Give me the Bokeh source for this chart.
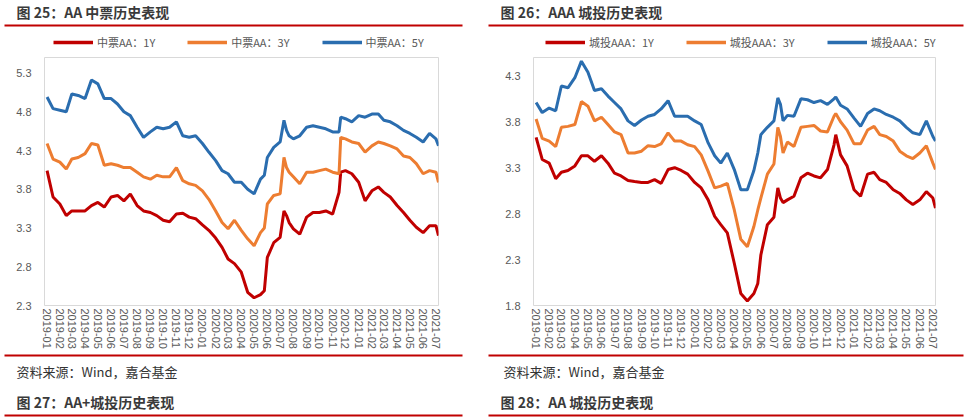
import pandas as pd
from bokeh.plotting import figure
from bokeh.layouts import column, row
from bokeh.models import (Range1d, FixedTicker, DatetimeTickFormatter, PrintfTickFormatter,
                          Legend, LegendItem, AllLabels)
from bokeh.embed import file_html
from bokeh.resources import INLINE
from bokeh.core.properties import value

# ---------------- data ----------------
dates = ["2019-01-02","2019-01-16","2019-02-01","2019-02-16","2019-03-01","2019-03-16",
         "2019-04-01","2019-04-16","2019-05-01","2019-05-16","2019-06-01","2019-06-16",
         "2019-07-01","2019-07-16","2019-08-01","2019-08-16","2019-09-01","2019-09-16",
         "2019-10-01","2019-10-16","2019-11-01","2019-11-16","2019-12-01","2019-12-16",
         "2020-01-01","2020-01-16","2020-02-01","2020-02-16","2020-03-01","2020-03-16",
         "2020-04-01","2020-04-16","2020-05-01","2020-05-16","2020-05-25","2020-06-01",
         "2020-06-16","2020-07-01","2020-07-10","2020-07-16","2020-07-22","2020-08-01",
         "2020-08-16","2020-09-01","2020-09-16","2020-10-01","2020-10-16","2020-11-01",
         "2020-11-16","2020-11-20","2020-12-01","2020-12-16","2021-01-01","2021-01-16",
         "2021-02-01","2021-02-16","2021-03-01","2021-03-16","2021-04-01","2021-04-16",
         "2021-05-01","2021-05-16","2021-06-01","2021-06-16","2021-07-01","2021-07-07"]

tick_labels = ["2019-01","2019-02","2019-03","2019-04","2019-05","2019-06","2019-07",
               "2019-08","2019-09","2019-10","2019-11","2019-12","2020-01","2020-02",
               "2020-03","2020-04","2020-05","2020-06","2020-07","2020-08","2020-09",
               "2020-10","2020-11","2020-12","2021-01","2021-02","2021-03","2021-04",
               "2021-05","2021-06","2021-07"]

# 图25: AA 中票
mtn_names = ["中票AA：1Y", "中票AA：3Y", "中票AA：5Y"]
mtn_1y = [4.04,3.70,3.61,3.46,3.52,3.52,3.52,3.59,3.63,3.57,
          3.70,3.72,3.65,3.74,3.59,3.52,3.50,3.46,3.40,3.38,
          3.48,3.49,3.44,3.42,3.34,3.27,3.17,3.05,2.90,2.84,
          2.73,2.47,2.40,2.44,2.49,2.92,3.11,3.18,3.52,3.46,
          3.37,3.29,3.22,3.44,3.50,3.50,3.52,3.48,3.76,4.02,
          4.04,4.00,3.89,3.65,3.78,3.83,3.76,3.70,3.59,3.50,
          3.40,3.31,3.24,3.33,3.33,3.20]
mtn_3y = [4.39,4.19,4.15,4.06,4.19,4.21,4.26,4.39,4.37,4.11,
          4.13,4.11,4.08,4.08,4.02,3.96,3.93,3.98,3.96,3.96,
          4.08,3.91,3.87,3.85,3.78,3.67,3.52,3.37,3.29,3.40,
          3.27,3.16,3.07,3.24,3.30,3.61,3.72,3.74,4.21,4.08,
          4.02,3.96,3.87,4.02,4.02,4.04,4.06,4.02,4.00,4.47,
          4.45,4.41,4.39,4.28,4.36,4.41,4.39,4.36,4.32,4.23,
          4.21,4.13,4.00,4.04,4.02,3.89]
mtn_5y = [4.99,4.84,4.82,4.80,5.03,5.01,4.97,5.21,5.16,4.97,
          4.97,4.90,4.80,4.75,4.60,4.47,4.54,4.60,4.58,4.60,
          4.67,4.49,4.47,4.49,4.39,4.28,4.17,4.04,4.00,3.89,
          3.89,3.80,3.74,3.93,3.98,4.21,4.34,4.41,4.69,4.56,
          4.49,4.45,4.49,4.60,4.62,4.60,4.58,4.54,4.54,4.73,
          4.71,4.67,4.75,4.73,4.77,4.77,4.69,4.67,4.62,4.56,
          4.52,4.47,4.41,4.52,4.45,4.36]
mtn_yticks = [2.3, 2.8, 3.3, 3.8, 4.3, 4.8, 5.3]

# 图26: AAA 城投
ct_names = ["城投AAA：1Y", "城投AAA：3Y", "城投AAA：5Y"]
ct_1y = [3.63,3.39,3.35,3.18,3.25,3.27,3.32,3.43,3.43,3.37,
         3.43,3.35,3.24,3.21,3.16,3.15,3.14,3.14,3.17,3.13,
         3.28,3.30,3.27,3.23,3.14,3.08,2.95,2.77,2.68,2.59,
         2.26,1.93,1.85,1.93,2.04,2.35,2.68,2.76,3.08,2.97,
         2.92,2.95,2.99,3.19,3.24,3.21,3.19,3.28,3.55,3.66,
         3.44,3.32,3.06,2.99,3.23,3.25,3.17,3.14,3.06,3.02,
         2.95,2.90,2.95,3.04,2.97,2.86]
ct_3y = [3.83,3.62,3.59,3.53,3.74,3.75,3.77,4.02,3.97,3.81,
         3.85,3.77,3.69,3.66,3.46,3.46,3.48,3.54,3.53,3.56,
         3.68,3.59,3.59,3.55,3.53,3.44,3.26,3.08,3.10,3.13,
         2.84,2.52,2.44,2.66,2.84,2.97,3.23,3.34,3.74,3.64,
         3.46,3.58,3.53,3.74,3.75,3.76,3.70,3.69,3.86,3.89,
         3.80,3.71,3.56,3.56,3.71,3.75,3.66,3.64,3.59,3.48,
         3.43,3.40,3.46,3.54,3.35,3.28]
ct_5y = [4.01,3.90,3.95,3.92,4.19,4.17,4.28,4.46,4.34,4.14,
         4.16,4.08,4.01,3.94,3.81,3.76,3.82,3.86,3.88,3.94,
         4.03,3.86,3.86,3.86,3.81,3.77,3.57,3.43,3.35,3.46,
         3.28,3.06,3.06,3.27,3.46,3.66,3.74,3.81,4.06,3.99,
         3.81,3.87,3.86,4.05,4.04,4.01,4.03,3.99,4.05,4.07,
         3.98,3.94,3.84,3.75,3.89,3.94,3.92,3.88,3.85,3.81,
         3.74,3.68,3.66,3.81,3.64,3.59]
ct_yticks = [1.8, 2.3, 2.8, 3.3, 3.8, 4.3]

titles_top = ["图 25：AA 中票历史表现", "图 26：AAA 城投历史表现"]
titles_bottom = ["图 27：AA+城投历史表现", "图 28：AA 城投历史表现"]
source_text = "资料来源：Wind，嘉合基金"

colors = ["#c00000", "#ed7d31", "#2a6daf"]
CJK = "Noto Sans CJK SC"
NUM = "Liberation Sans"
GRAY = "#595959"
RED = "#c00000"

x_dt = pd.to_datetime(dates)
tick_ms = [pd.Timestamp(t + "-01").value / 1e6 for t in tick_labels]
x_start = pd.Timestamp("2018-12-27")
x_end = pd.Timestamp("2021-07-07")


def make_chart(fw, bl, br, bt, bb, y0, y1, yticks, series):
    p = figure(frame_width=fw, frame_height=248, x_axis_type="datetime",
               x_range=Range1d(x_start, x_end), y_range=Range1d(y0, y1),
               min_border_left=bl, min_border_right=br, min_border_top=bt,
               min_border_bottom=bb, toolbar_location=None, output_backend="svg")
    p.xgrid.visible = False
    p.ygrid.visible = False
    p.outline_line_color = "#d9d9d9"
    p.outline_line_width = 1
    p.background_fill_color = "white"
    p.border_fill_color = "white"

    for s, c in zip(series, colors):
        p.line(x=x_dt, y=s, line_color=c, line_width=3)

    xa = p.xaxis[0]
    xa.ticker = FixedTicker(ticks=tick_ms)
    xa.formatter = DatetimeTickFormatter(days="%Y-%m", months="%Y-%m", years="%Y-%m",
                                         hours="%Y-%m", hourmin="%Y-%m")
    xa.major_label_orientation = "vertical"
    xa.major_label_policy = AllLabels()
    xa.major_label_standoff = 3
    xa.major_tick_line_color = None
    xa.minor_tick_line_color = None
    xa.axis_line_color = None
    xa.major_tick_out = 0
    xa.major_label_text_font = NUM
    xa.major_label_text_font_size = "11px"
    xa.major_label_text_color = GRAY

    ya = p.yaxis[0]
    ya.ticker = FixedTicker(ticks=yticks)
    ya.formatter = PrintfTickFormatter(format="%.1f")
    ya.major_label_policy = AllLabels()
    ya.major_label_standoff = 13
    ya.major_tick_line_color = None
    ya.minor_tick_line_color = None
    ya.axis_line_color = None
    ya.major_tick_out = 0
    ya.major_label_text_font = NUM
    ya.major_label_text_font_size = "11px"
    ya.major_label_text_color = GRAY
    return p


def canvas(w, h):
    c = figure(width=w, height=h, x_range=Range1d(0, w), y_range=Range1d(h, 0),
               x_axis_location=None, y_axis_location=None, min_border=0,
               toolbar_location=None, output_backend="svg")
    c.grid.visible = False
    c.outline_line_color = None
    c.background_fill_color = "white"
    c.border_fill_color = "white"
    return c


W = 968
HEAD_H = 52
# header (page y 0..52): titles, rules, legends
head = canvas(W, HEAD_H)
head.text(x=[16, 500], y=[11.5, 11.5], text=titles_top, text_font=value(CJK),
          text_font_size=value("14px"), text_font_style="bold", text_color="#3a3a3a",
          text_baseline="middle", text_align="left")
head.segment(x0=[4, 488], y0=[25, 25], x1=[462, 963], y1=[25, 25],
             line_color=RED, line_width=2)

NAN = float("nan")


def add_legend(names, loc):
    items = []
    for c, n in zip(colors, names):
        # key-only renderer (no visible data) so the legend swatch is drawn here
        r = head.line(x=[NAN, NAN], y=[NAN, NAN], line_color=c, line_width=3.5)
        items.append(LegendItem(label=n, renderers=[r]))
    lg = Legend(items=items, orientation="horizontal", location=loc, spacing=32,
                glyph_width=40, glyph_height=12, label_standoff=4, label_height=12,
                padding=0, margin=0, border_line_color=None, background_fill_alpha=0,
                label_text_font=CJK, label_text_font_size="11px", label_text_color=GRAY)
    head.add_layout(lg)


add_legend(mtn_names, (53, 2))
add_legend(ct_names, (545, 2))

# charts (page y 52..353)
left = make_chart(394, 44, 38, 2, 51, 2.3, 5.5, mtn_yticks, [mtn_1y, mtn_3y, mtn_5y])
right = make_chart(402, 57, 33, 5, 48, 1.8, 4.5, ct_yticks, [ct_1y, ct_3y, ct_5y])

# footer (page y 353..419)
foot = canvas(W, 66)
foot.segment(x0=[4, 488, 4, 488], y0=[2, 2, 62, 62], x1=[462, 963, 462, 963],
             y1=[2, 2, 62, 62], line_color=RED, line_width=2)
foot.text(x=[16, 503], y=[18, 18], text=[source_text, source_text], text_font=value(CJK),
          text_font_size=value("13px"), text_color="#333333",
          text_baseline="middle", text_align="left")
foot.text(x=[16, 500], y=[48, 48], text=titles_bottom, text_font=value(CJK),
          text_font_size=value("14px"), text_font_style="bold", text_color="#3a3a3a",
          text_baseline="middle", text_align="left")

layout = column(head, row(left, right), foot)
open("out.html", "w").write(file_html(layout, INLINE))
